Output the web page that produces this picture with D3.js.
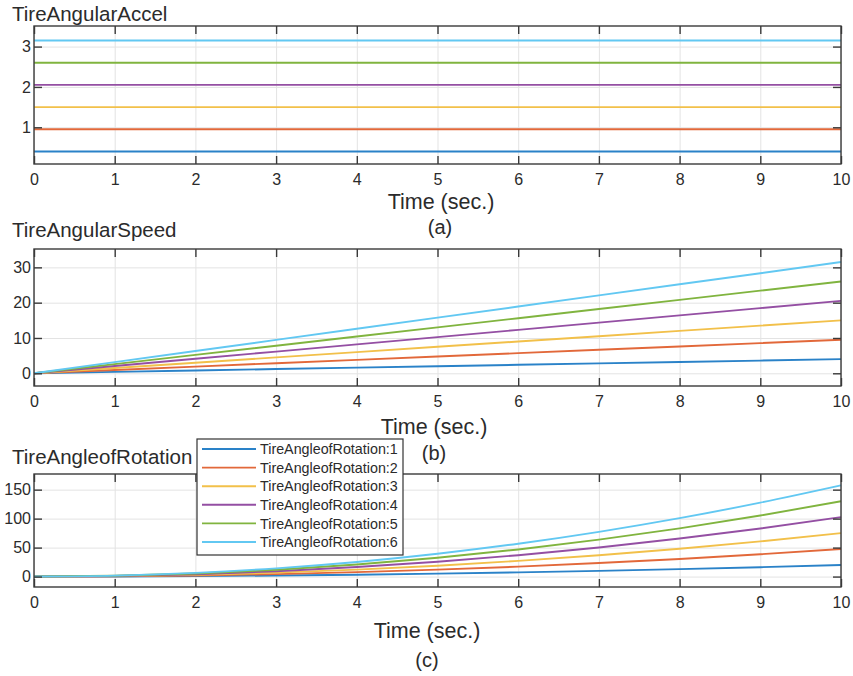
<!DOCTYPE html>
<html>
<head>
<meta charset="utf-8">
<script src="https://cdn.jsdelivr.net/npm/d3@7"></script>
<style>
  html, body { margin: 0; padding: 0; background: #fff; }
  svg { display: block; }
  text { font-family: "Liberation Sans", Arial, sans-serif; fill: #2b2b2b; }
</style>
</head>
<body>
<svg id="chart" width="853" height="676"></svg>
<script>
// ---------------- data ----------------
const time = [0, 1, 2, 3, 4, 5, 6, 7, 8, 9, 10];
const xTicks = [0, 1, 2, 3, 4, 5, 6, 7, 8, 9, 10];

const seriesNames = ["TireAngleofRotation:1", "TireAngleofRotation:2", "TireAngleofRotation:3",
                     "TireAngleofRotation:4", "TireAngleofRotation:5", "TireAngleofRotation:6"];
const seriesColors = ["#2a82c8", "#e2683a", "#f2c04a", "#944fa3", "#80b43f", "#62c8f2"];

// (a) TireAngularAccel
const accel1 = [0.4, 0.4, 0.4, 0.4, 0.4, 0.4, 0.4, 0.4, 0.4, 0.4, 0.4];
const accel2 = [0.95, 0.95, 0.95, 0.95, 0.95, 0.95, 0.95, 0.95, 0.95, 0.95, 0.95];
const accel3 = [1.5, 1.5, 1.5, 1.5, 1.5, 1.5, 1.5, 1.5, 1.5, 1.5, 1.5];
const accel4 = [2.05, 2.05, 2.05, 2.05, 2.05, 2.05, 2.05, 2.05, 2.05, 2.05, 2.05];
const accel5 = [2.6, 2.6, 2.6, 2.6, 2.6, 2.6, 2.6, 2.6, 2.6, 2.6, 2.6];
const accel6 = [3.15, 3.15, 3.15, 3.15, 3.15, 3.15, 3.15, 3.15, 3.15, 3.15, 3.15];
const accelTicks = [1, 2, 3];

// (b) TireAngularSpeed
const speed1 = [0, 0.4, 0.8, 1.2, 1.6, 2.0, 2.4, 2.8, 3.2, 3.6, 4.0];
const speed2 = [0, 0.95, 1.9, 2.85, 3.8, 4.75, 5.7, 6.65, 7.6, 8.55, 9.5];
const speed3 = [0, 1.5, 3.0, 4.5, 6.0, 7.5, 9.0, 10.5, 12.0, 13.5, 15.0];
const speed4 = [0, 2.05, 4.1, 6.15, 8.2, 10.25, 12.3, 14.35, 16.4, 18.45, 20.5];
const speed5 = [0, 2.6, 5.2, 7.8, 10.4, 13.0, 15.6, 18.2, 20.8, 23.4, 26.0];
const speed6 = [0, 3.15, 6.3, 9.45, 12.6, 15.75, 18.9, 22.05, 25.2, 28.35, 31.5];
const speedTicks = [0, 10, 20, 30];

// (c) TireAngleofRotation
const rot1 = [0, 0.2, 0.8, 1.8, 3.2, 5.0, 7.2, 9.8, 12.8, 16.2, 20.0];
const rot2 = [0, 0.5, 1.9, 4.3, 7.6, 11.9, 17.1, 23.3, 30.4, 38.5, 47.5];
const rot3 = [0, 0.75, 3.0, 6.75, 12.0, 18.75, 27.0, 36.75, 48.0, 60.75, 75.0];
const rot4 = [0, 1.0, 4.1, 9.2, 16.4, 25.6, 36.9, 50.2, 65.6, 83.0, 102.5];
const rot5 = [0, 1.3, 5.2, 11.7, 20.8, 32.5, 46.8, 63.7, 83.2, 105.3, 130.0];
const rot6 = [0, 1.6, 6.3, 14.2, 25.2, 39.4, 56.7, 77.2, 100.8, 127.6, 157.5];
const rotTicks = [0, 50, 100, 150];

// ---------------- drawing ----------------
const svg = d3.select("#chart");
svg.append("rect").attr("width", 853).attr("height", 676).attr("fill", "#fff");

const left = 34, right = 841;
const x = d3.scaleLinear().domain([0, 10]).range([left, right]);

const panels = [
  { title: "TireAngularAccel", top: 26, bottom: 164, domain: [0.09, 3.51], ticks: accelTicks,
    data: [accel1, accel2, accel3, accel4, accel5, accel6], curve: d3.curveLinear,
    titleY: 21, xlabY: 209, xlabX: 441, subY: 234, subX: 440, sub: "(a)" },
  { title: "TireAngularSpeed", top: 249, bottom: 386, domain: [-3.6, 35.2], ticks: speedTicks,
    data: [speed1, speed2, speed3, speed4, speed5, speed6], curve: d3.curveLinear,
    titleY: 237, xlabY: 434, xlabX: 434, subY: 460, subX: 434, sub: "(b)" },
  { title: "TireAngleofRotation", top: 474, bottom: 587, domain: [-18, 177], ticks: rotTicks,
    data: [rot1, rot2, rot3, rot4, rot5, rot6], curve: d3.curveMonotoneX,
    titleY: 464, xlabY: 638, xlabX: 427, subY: 667, subX: 427, sub: "(c)" }
];

panels.forEach(p => {
  const y = d3.scaleLinear().domain(p.domain).range([p.bottom, p.top]);
  const g = svg.append("g");
  const h = p.bottom - p.top, w = right - left;

  // grid
  g.append("g").attr("transform", `translate(0,${p.bottom})`)
    .call(d3.axisBottom(x).tickValues(xTicks).tickSize(-h).tickFormat(""))
    .call(s => s.select(".domain").remove())
    .call(s => s.selectAll("line").attr("stroke", "#e3e3e3").attr("stroke-width", 1));
  g.append("g").attr("transform", `translate(${left},0)`)
    .call(d3.axisLeft(y).tickValues(p.ticks).tickSize(-w).tickFormat(""))
    .call(s => s.select(".domain").remove())
    .call(s => s.selectAll("line").attr("stroke", "#e3e3e3").attr("stroke-width", 1));

  // data lines
  const line = d3.line().x((d, i) => x(time[i])).y(d => y(d)).curve(p.curve);
  p.data.forEach((arr, k) => {
    g.append("path").datum(arr).attr("d", line)
      .attr("fill", "none").attr("stroke", seriesColors[k]).attr("stroke-width", 1.9);
  });

  // inner tick marks on all four sides
  const tickStyle = s => { s.select(".domain").remove(); s.selectAll("line").attr("stroke", "#3a3a3a").attr("stroke-width", 1.4); };
  g.append("g").attr("transform", `translate(0,${p.bottom})`)
    .call(d3.axisBottom(x).tickValues(xTicks).tickSize(-8).tickFormat("")).call(tickStyle);
  g.append("g").attr("transform", `translate(0,${p.top})`)
    .call(d3.axisTop(x).tickValues(xTicks).tickSize(-8).tickFormat("")).call(tickStyle);
  g.append("g").attr("transform", `translate(${left},0)`)
    .call(d3.axisLeft(y).tickValues(p.ticks).tickSize(-8).tickFormat("")).call(tickStyle);
  g.append("g").attr("transform", `translate(${right},0)`)
    .call(d3.axisRight(y).tickValues(p.ticks).tickSize(-8).tickFormat("")).call(tickStyle);

  // tick labels
  g.append("g").attr("transform", `translate(0,${p.bottom})`)
    .call(d3.axisBottom(x).tickValues(xTicks).tickSize(0).tickPadding(10).tickFormat(d3.format("d")))
    .call(s => s.select(".domain").remove())
    .call(s => s.selectAll("text").attr("font-size", 16).attr("fill", "#2b2b2b")
      .style("font-family", '"Liberation Sans", Arial, sans-serif'));
  g.append("g").attr("transform", `translate(${left},0)`)
    .call(d3.axisLeft(y).tickValues(p.ticks).tickSize(0).tickPadding(3).tickFormat(d3.format("d")))
    .call(s => s.select(".domain").remove())
    .call(s => s.selectAll("text").attr("font-size", 16).attr("fill", "#2b2b2b")
      .style("font-family", '"Liberation Sans", Arial, sans-serif'));

  // box
  g.append("rect").attr("x", left).attr("y", p.top).attr("width", w).attr("height", h)
    .attr("fill", "none").attr("stroke", "#3a3a3a").attr("stroke-width", 1.4);

  // titles and labels
  svg.append("text").attr("x", 12).attr("y", p.titleY).attr("font-size", 20.5).text(p.title);
  svg.append("text").attr("x", p.xlabX).attr("y", p.xlabY).attr("font-size", 21.5)
    .attr("text-anchor", "middle").text("Time (sec.)");
  svg.append("text").attr("x", p.subX).attr("y", p.subY).attr("font-size", 20)
    .attr("text-anchor", "middle").text(p.sub);
});

// legend (drawn over panel c)
const leg = svg.append("g").attr("transform", "translate(197,439)");
leg.append("rect").attr("width", 206).attr("height", 116)
  .attr("fill", "#fff").attr("stroke", "#333").attr("stroke-width", 1.2);
seriesNames.forEach((name, i) => {
  const yy = 10 + i * 18.6;
  leg.append("line").attr("x1", 5).attr("x2", 59).attr("y1", yy).attr("y2", yy)
    .attr("stroke", seriesColors[i]).attr("stroke-width", 1.9);
  leg.append("text").attr("x", 63).attr("y", yy).attr("dy", "0.36em")
    .attr("font-size", 14.3).text(name);
});
</script>
</body>
</html>
